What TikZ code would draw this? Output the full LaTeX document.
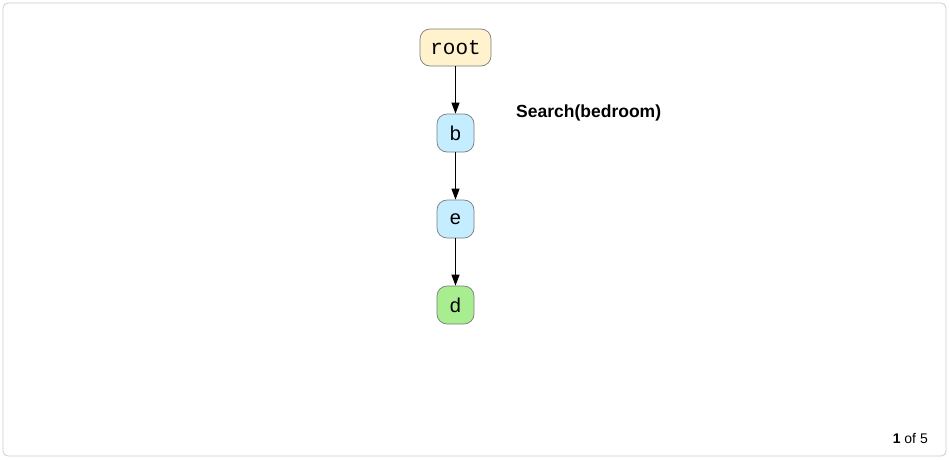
\documentclass[tikz,border=0pt]{standalone}
\usepackage{fontspec}
\setmainfont{Liberation Sans}
\newfontfamily\monof{Liberation Mono}
\usetikzlibrary{arrows.meta}
\definecolor{rootfill}{HTML}{FFF2CC}
\definecolor{bluefill}{HTML}{C4EEFF}
\definecolor{greenfill}{HTML}{A8EE90}
\definecolor{nodeborder}{HTML}{7A7A7A}
\definecolor{frameborder}{HTML}{CCCCCC}
\begin{document}
\begin{tikzpicture}[x=1pt,y=-1pt,
  treenode/.style={draw=nodeborder,line width=0.7pt,rounded corners=10pt,inner sep=0pt,align=center},
  letternode/.style={treenode,minimum width=37pt,minimum height=38pt,font=\fontsize{20}{22}\selectfont},
  edge/.style={draw=black,line width=1.1pt,-{Triangle[length=11pt,width=8pt]}}]
\useasboundingbox (0,0) rectangle (949,459);
\draw[frameborder,line width=0.8pt,rounded corners=5pt] (3,3) rectangle (946,456);
\node[treenode,fill=rootfill,minimum width=71pt,minimum height=37pt,font=\monof\fontsize{21}{23}\selectfont] (root) at (455.5,47.5) {root};
\node[letternode,fill=bluefill] (b) at (455.5,133) {b};
\node[letternode,fill=bluefill] (e) at (455.5,219) {e};
\node[letternode,fill=greenfill] (d) at (455.5,305) {d};
\draw[edge] (root) -- (b);
\draw[edge] (b) -- (e);
\draw[edge] (e) -- (d);
\node[anchor=west,inner sep=0pt,font=\bfseries\fontsize{17.5}{20}\selectfont] (search) at (516,112.5) {Search(bedroom)};
\node[anchor=east,inner sep=0pt,font=\fontsize{14}{16}\selectfont] (pager) at (928,438) {\textbf{1} of 5};
\end{tikzpicture}
\end{document}
